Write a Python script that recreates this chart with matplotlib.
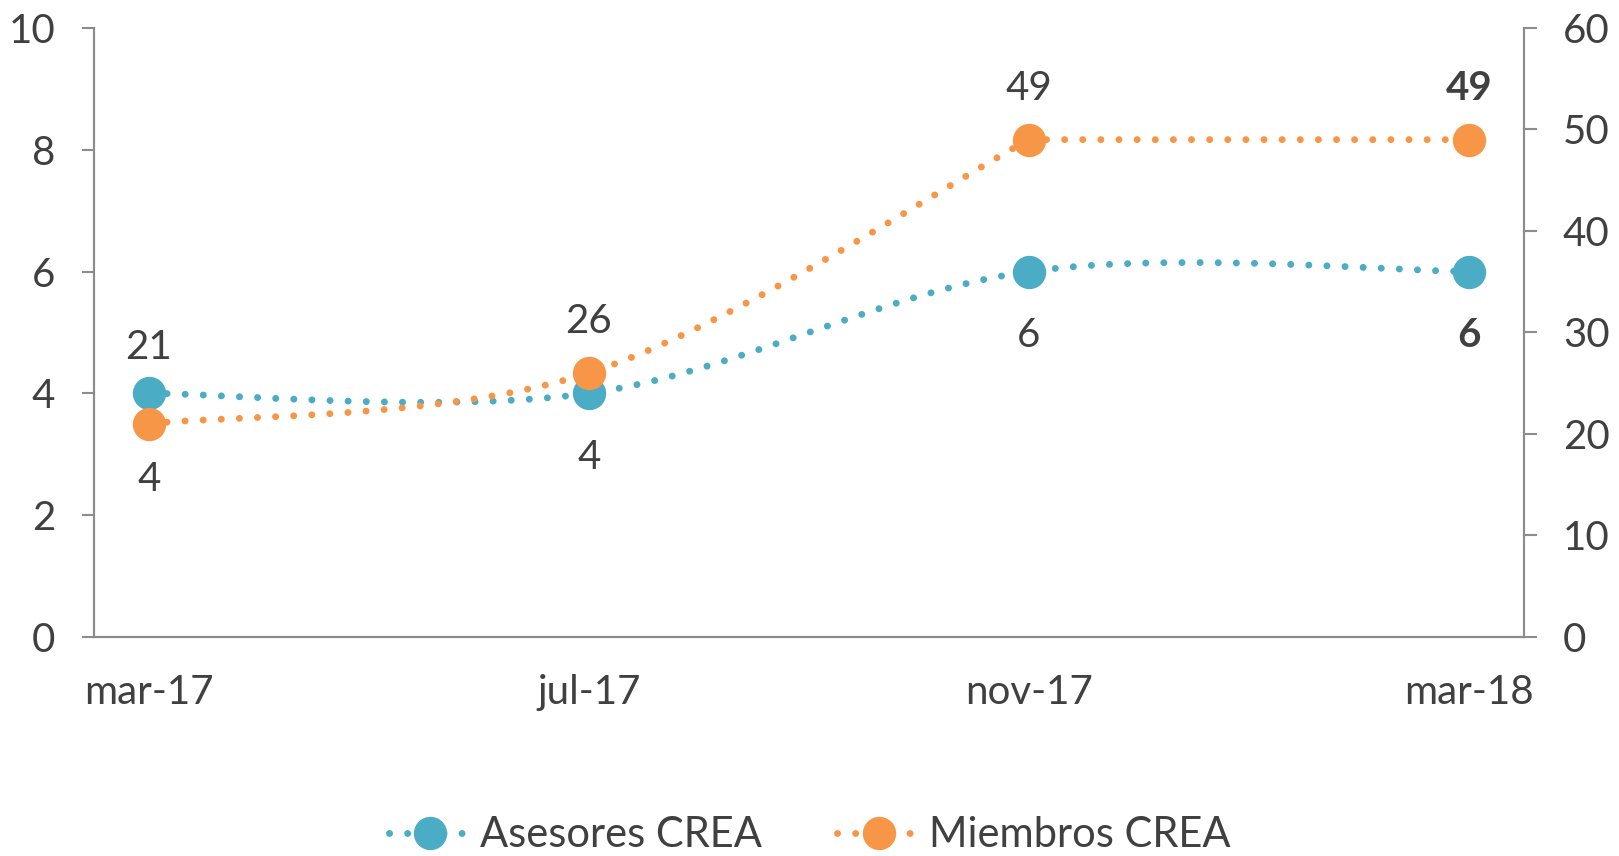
import numpy as np
import matplotlib
matplotlib.use("Agg")
from matplotlib import pyplot as plt
from matplotlib.lines import Line2D

plt.rcParams['font.family'] = ['Lato', 'DejaVu Sans']

categories = ["mar-17", "jul-17", "nov-17", "mar-18"]
asesores = [4, 4, 6, 6]
miembros = [21, 26, 49, 49]

blue = "#4BACC6"
orange = "#F79646"
txt = "#404040"
spine_c = "#8C8C8C"


def smooth(y, kinks=(), n=60):
    # excel-like smoothed line (catmull-rom as cubic bezier)
    # at a "kink" index each side takes its own segment as tangent
    x = np.arange(len(y), dtype=float)
    y = np.asarray(y, dtype=float)
    pts = np.column_stack([x, y])
    out = [pts[0]]
    for i in range(len(pts) - 1):
        p0 = pts[i - 1] if i > 0 and i not in kinks else pts[i]
        p1 = pts[i]
        p2 = pts[i + 1]
        p3 = pts[i + 2] if i + 2 < len(pts) and (i + 1) not in kinks else pts[i + 1]
        c1 = p1 + (p2 - p0) / 6
        c2 = p2 - (p3 - p1) / 6
        t = np.linspace(0, 1, n)[1:, None]
        seg = ((1 - t) ** 3) * p1 + 3 * ((1 - t) ** 2) * t * c1 + 3 * (1 - t) * t ** 2 * c2 + t ** 3 * p2
        out.extend(seg)
    out = np.array(out)
    return out[:, 0], out[:, 1]


fig = plt.figure(figsize=(16.19, 8.56), dpi=100)
ax = fig.add_axes([0.058, 0.256, 0.8833, 0.7113])
ax2 = ax.twinx()

dot_style = dict(linewidth=5, linestyle=(0, (0.01, 2.6)), dash_capstyle="round")

sx, sy = smooth(asesores)
ax.plot(sx, sy, color=blue, **dot_style)
ax.plot(range(len(asesores)), asesores, "o", color=blue, markersize=23, zorder=3)

sx2, sy2 = smooth(miembros, kinks=(2,))
ax2.plot(sx2, sy2, color=orange, **dot_style)
ax2.plot(range(len(miembros)), miembros, "o", color=orange, markersize=23, zorder=3)

ax.set_xlim(-0.125, 3.125)
ax.set_ylim(0, 10)
ax2.set_ylim(0, 60)
ax.set_yticks(np.arange(0, 11, 2))
ax2.set_yticks(np.arange(0, 61, 10))
ax.set_xticks(range(len(categories)))
ax.set_xticklabels(categories)

for a in (ax, ax2):
    a.spines["top"].set_visible(False)
    for s in ("left", "right", "bottom"):
        a.spines[s].set_color(spine_c)
        a.spines[s].set_linewidth(1.5)
    a.tick_params(axis="y", length=9, width=1.5, color=spine_c, pad=19,
                  labelsize=29, labelcolor=txt)
ax.spines["bottom"].set_color("#595959")
ax.tick_params(axis="x", length=0, pad=27, labelsize=29, labelcolor=txt)

# data labels
blue_off = [-62, -46, -46, -46]
orange_off = [55, 37, 37, 37]
for i, v in enumerate(asesores):
    w = "bold" if i == len(asesores) - 1 else "normal"
    ax.annotate(str(v), (i, v), xytext=(0, blue_off[i]), textcoords="offset points",
                ha="center", va="center", fontsize=29, color=txt, fontweight=w)
for i, v in enumerate(miembros):
    w = "bold" if i == len(miembros) - 1 else "normal"
    ax2.annotate(str(v), (i, v), xytext=(0, orange_off[i]), textcoords="offset points",
                 ha="center", va="center", fontsize=29, color=txt, fontweight=w)

handles = [
    Line2D([], [], color=blue, marker="o", markersize=23, **dot_style),
    Line2D([], [], color=orange, marker="o", markersize=23, **dot_style),
]
fig.legend(handles, ["Asesores CREA", "Miembros CREA"], loc="center",
           bbox_to_anchor=(0.5, 0.024), ncol=2, frameon=False, fontsize=30,
           labelcolor=txt, handlelength=2.0, handletextpad=0.2, columnspacing=1.8)

fig.savefig("out.png", dpi=100)
